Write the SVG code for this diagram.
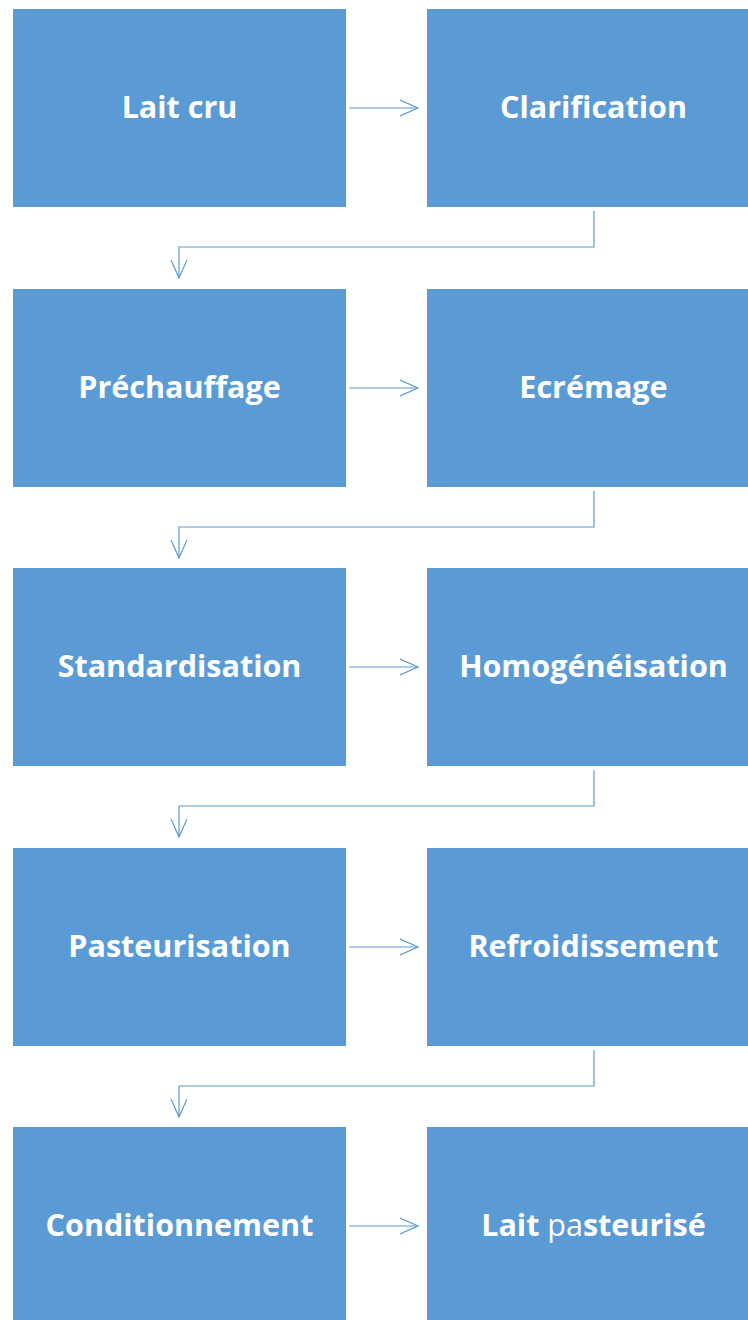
<svg xmlns="http://www.w3.org/2000/svg" width="748" height="1320" viewBox="0 0 748 1320">
<defs>
<style>
.box{fill:#5B9BD5;}
.lbl{fill:#ffffff;font-family:"Open Sans","Liberation Sans",sans-serif;font-weight:bold;font-size:30.5px;text-anchor:middle;dominant-baseline:central;}
.con{fill:none;stroke:#5B9BD5;stroke-width:1.2;}
</style>
<marker id="ah" markerWidth="20" markerHeight="20" refX="18" refY="9" orient="auto" markerUnits="userSpaceOnUse">
<path d="M0,1 L18,9 L0,17" fill="none" stroke="#5B9BD5" stroke-width="1.2"/>
</marker>
</defs>
<rect width="748" height="1320" fill="#ffffff"/>
<g id="n1"><rect class="box" x="13" y="9" width="333" height="198"/><text class="lbl" x="179.5" y="106">Lait cru</text></g>
<g id="n2"><rect class="box" x="427" y="9" width="321" height="198"/><text class="lbl" x="593.5" y="106">Clarification</text></g>
<g id="n3"><rect class="box" x="13" y="289" width="333" height="198"/><text class="lbl" x="179.5" y="386">Préchauffage</text></g>
<g id="n4"><rect class="box" x="427" y="289" width="321" height="198"/><text class="lbl" x="593.5" y="386">Ecrémage</text></g>
<g id="n5"><rect class="box" x="13" y="568" width="333" height="198"/><text class="lbl" x="179.5" y="665">Standardisation</text></g>
<g id="n6"><rect class="box" x="427" y="568" width="321" height="198"/><text class="lbl" x="593.5" y="665">Homogénéisation</text></g>
<g id="n7"><rect class="box" x="13" y="848" width="333" height="198"/><text class="lbl" x="179.5" y="945">Pasteurisation</text></g>
<g id="n8"><rect class="box" x="427" y="848" width="321" height="198"/><text class="lbl" x="593.5" y="945">Refroidissement</text></g>
<g id="n9"><rect class="box" x="13" y="1127" width="333" height="193"/><text class="lbl" x="179.5" y="1224">Conditionnement</text></g>
<g id="n10"><rect class="box" x="427" y="1127" width="321" height="193"/><text class="lbl" x="593.5" y="1224">Lait <tspan font-weight="normal">pa</tspan>steurisé</text></g>
<g id="connectors">
<path class="con" d="M349,108 H418" marker-end="url(#ah)"/>
<path class="con" d="M349,388 H418" marker-end="url(#ah)"/>
<path class="con" d="M349,667 H418" marker-end="url(#ah)"/>
<path class="con" d="M349,947 H418" marker-end="url(#ah)"/>
<path class="con" d="M349,1226 H418" marker-end="url(#ah)"/>
<path class="con" d="M594,211 V247 H179 V278" marker-end="url(#ah)"/>
<path class="con" d="M594,491 V527 H179 V558" marker-end="url(#ah)"/>
<path class="con" d="M594,770 V806 H179 V837" marker-end="url(#ah)"/>
<path class="con" d="M594,1050 V1086 H179 V1117" marker-end="url(#ah)"/>
</g>
</svg>
